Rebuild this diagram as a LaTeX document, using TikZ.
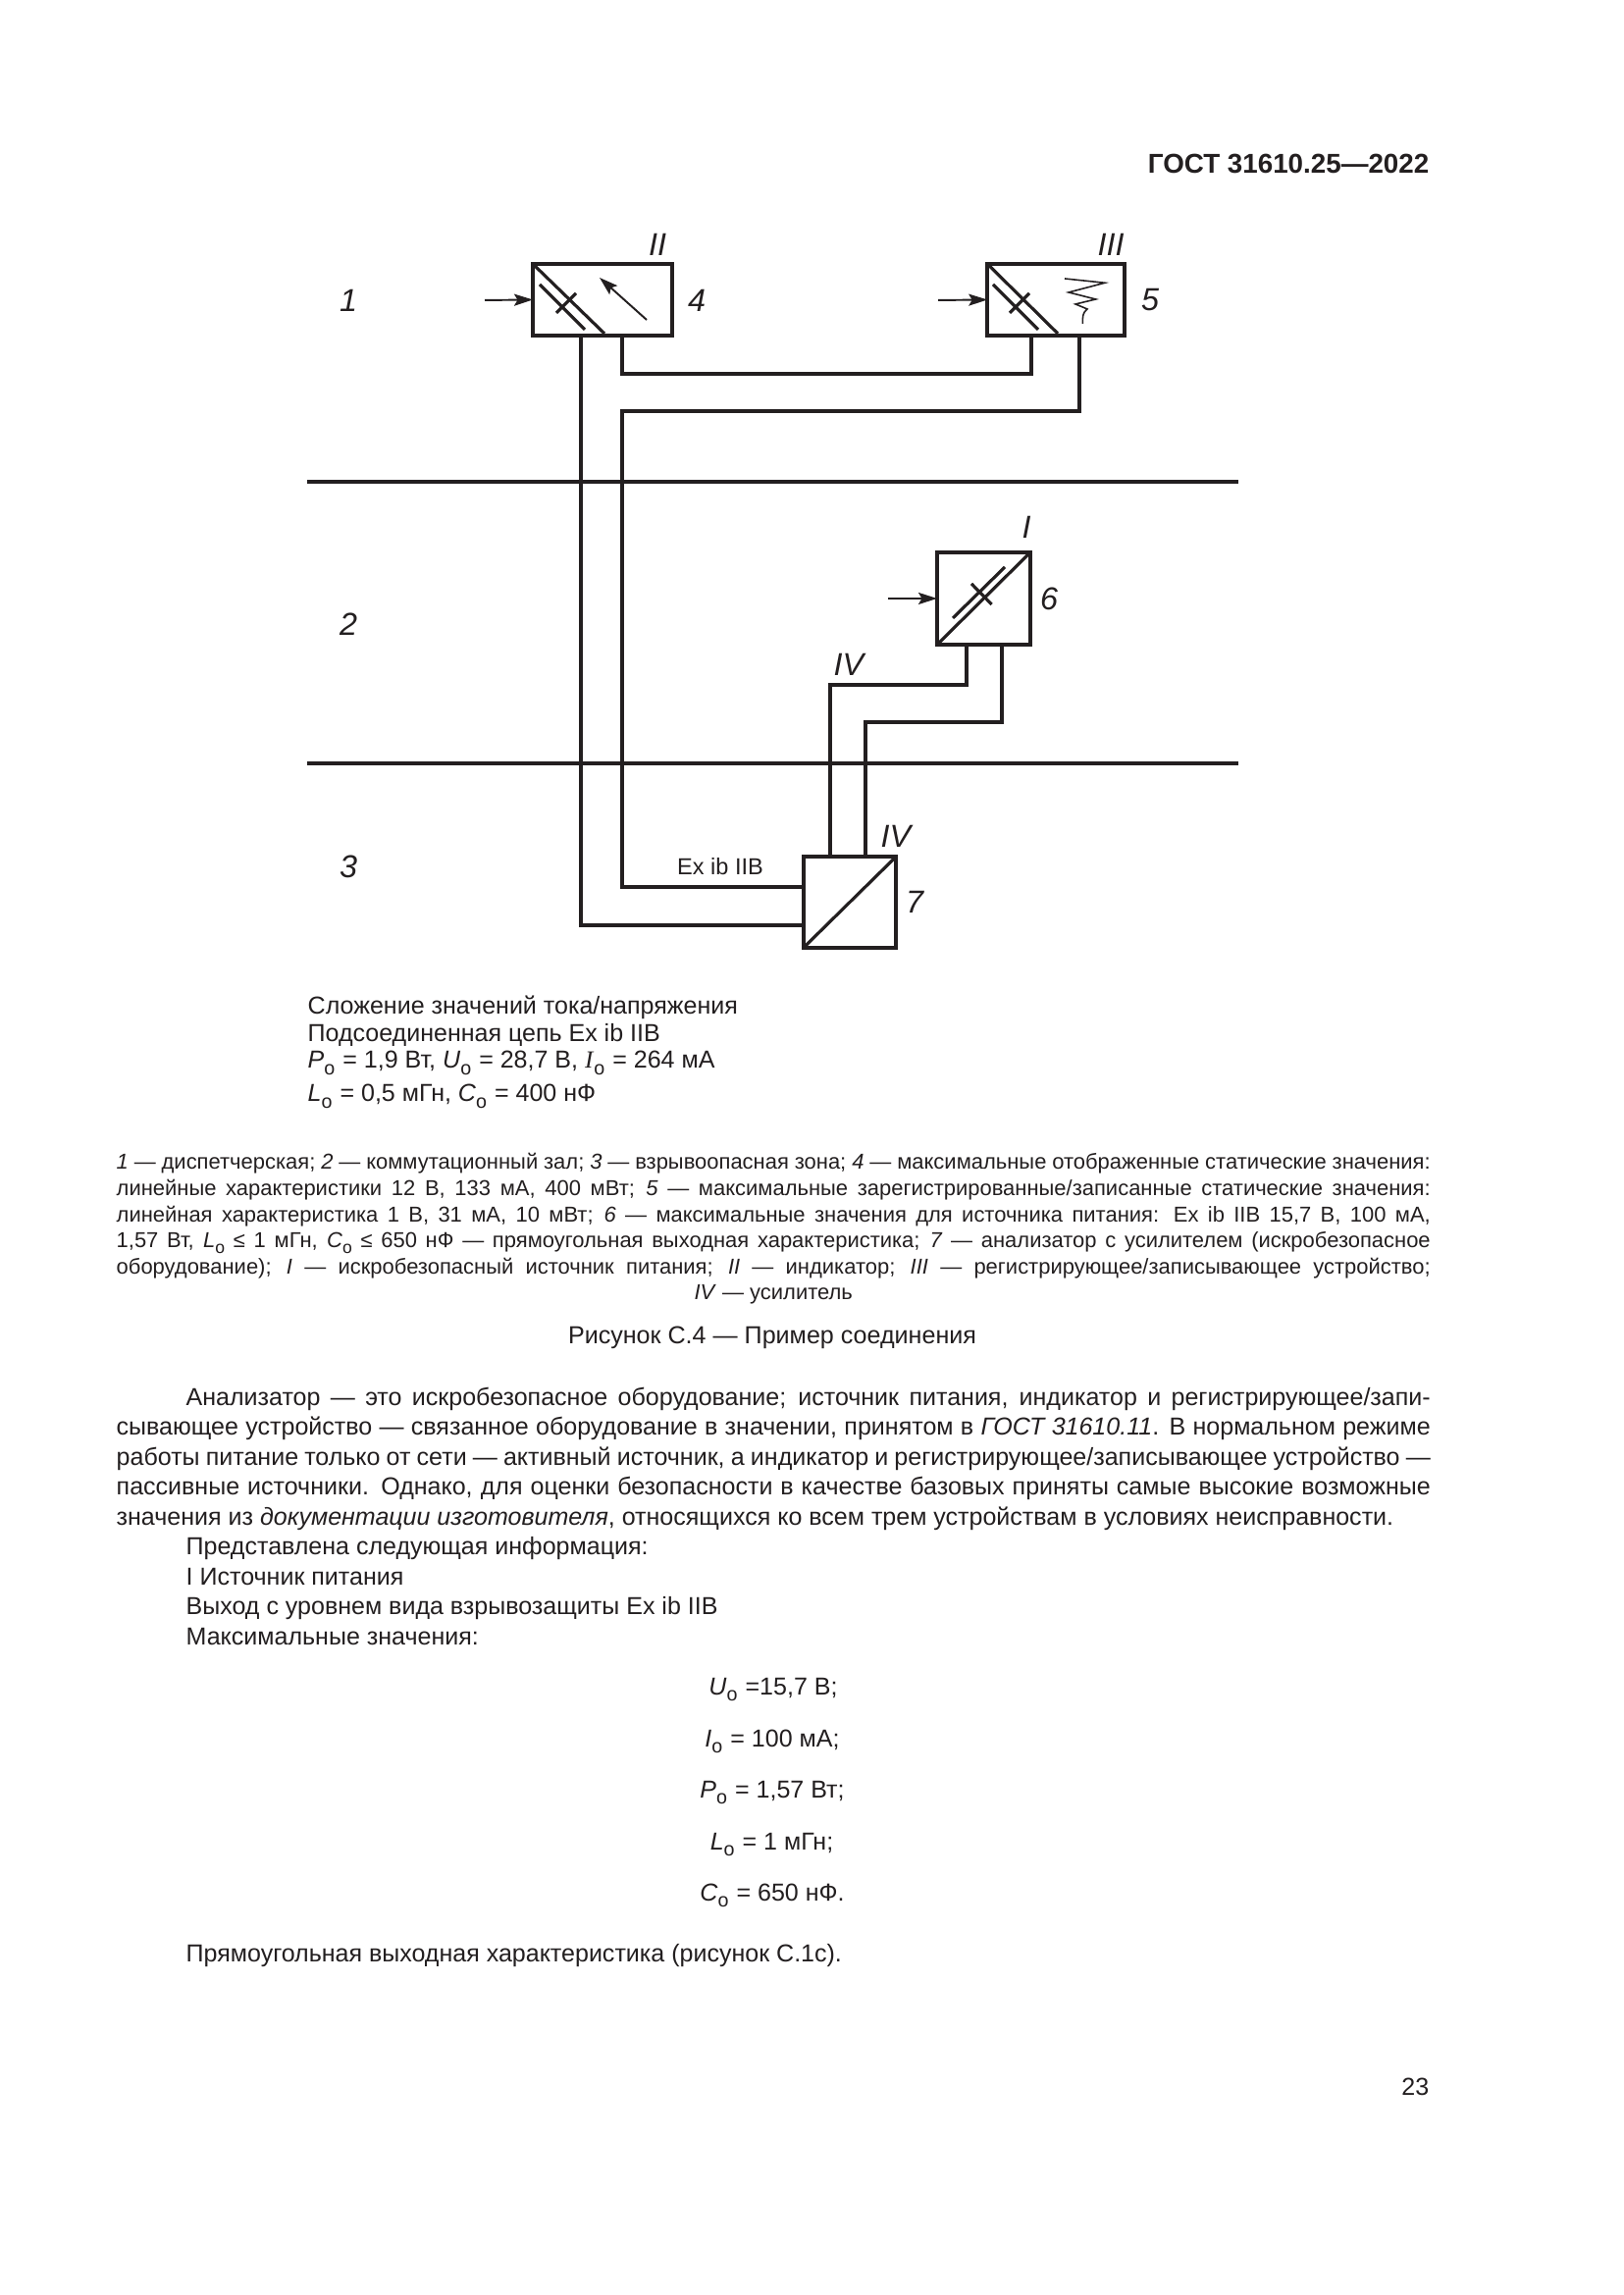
\documentclass[tikz,border=0pt]{standalone}
\usepackage{fontspec}
\setmainfont{Liberation Sans}
\newfontfamily\serifletter{Liberation Serif}
\usetikzlibrary{arrows.meta}
\definecolor{inkcol}{HTML}{231F20}
\newcommand{\jline}[1]{\makebox[13.39cm][s]{#1}}
\newcommand{\subo}[1]{\textit{#1}\raisebox{-1.9pt}{\fontsize{5.6}{6}\selectfont о}\kern0.3pt\relax}
\newcommand{\subc}[1]{\textit{#1}\raisebox{-1.6pt}{\fontsize{5}{6}\selectfont о}}
\tikzset{
  devbox/.style={draw=inkcol, line width=1.05pt, inner sep=0pt, outer sep=0pt},
  wire/.style={draw=inkcol, line width=1.05pt},
  zoneline/.style={draw=inkcol, line width=1.1pt},
  thinline/.style={draw=inkcol, line width=0.9pt},
  feed/.style={draw=inkcol, line width=0.55pt, -{Stealth[length=1.9mm,width=1.2mm,inset=0.35mm]}},
  tag/.style={font=\fontsize{9.2}{11}\selectfont\itshape, text=inkcol, inner sep=0pt},
  block/.style={font=\fontsize{7.12}{8.68}\selectfont, text=inkcol, inner sep=0pt, align=left, anchor=north west},
  small/.style={font=\fontsize{6.25}{7.56}\selectfont, text=inkcol, inner sep=0pt, align=left, anchor=north west},
  formula/.style={font=\fontsize{7.12}{8.7}\selectfont, text=inkcol, inner sep=0pt}
}
\begin{document}
\begin{tikzpicture}[scale=1.0]

\useasboundingbox (0,0) rectangle (16.54,23.39);
\fill[white] (0,0) rectangle (16.54,23.39);

\node[font=\fontsize{7.9}{9}\selectfont\bfseries, text=inkcol, inner sep=0pt, anchor=east] (header) at (14.57, 21.72) {ГОСТ 31610.25—2022};

% zones
\coordinate (zoneaw) at (3.13, 18.48);
\coordinate (zoneae) at (12.62, 18.48);
\coordinate (zonebw) at (3.13, 15.61);
\coordinate (zonebe) at (12.62, 15.61);
\draw[zoneline] (zoneaw) -- (zoneae);
\draw[zoneline, line width=0.95pt] (zonebw) -- (zonebe);

\node[tag] (zone1) at ( 3.55, 20.33) {1};
\node[tag] (zone2) at ( 3.55, 17.03) {2};
\node[tag] (zone3) at ( 3.55, 14.56) {3};

% devices
\node[devbox, minimum width=1.42cm, minimum height=0.73cm] (box4) at ( 6.14, 20.335) {};
\node[devbox, minimum width=1.40cm, minimum height=0.73cm] (box5) at (10.762, 20.335) {};
\node[devbox, minimum width=0.95cm, minimum height=0.94cm] (box6) at (10.025, 17.29) {};
\node[devbox, minimum width=0.945cm, minimum height=0.93cm] (box7) at ( 8.66, 14.195) {};

\node[tag] (labII)  at ( 6.70, 20.90) {II};
\node[tag] (labIII) at (11.32, 20.90) {III};
\node[tag] (lab4)   at ( 7.10, 20.33) {4};
\node[tag] (lab5)   at (11.72, 20.33) {5};
\node[tag] (labI)   at (10.46, 18.02) {I};
\node[tag] (lab6)   at (10.69, 17.29) {6};
\node[tag] (labIVa) at ( 8.65, 16.62) {IV};
\node[tag] (labIVb) at ( 9.13, 14.87) {IV};
\node[tag] (lab7)   at ( 9.32, 14.20) {7};

\node[font=\fontsize{6.7}{8}\selectfont, text=inkcol, inner sep=0pt] (exlabel) at ( 7.34, 14.56) {Ex ib IIB};

% wires
\draw[wire] ([xshift=-0.22cm]box4.south) |- ([yshift=-0.235cm]box7.west);
\draw[wire] ([xshift=0.20cm]box4.south) |- (10.51, 19.58) -- ([xshift=-0.252cm]box5.south);
\draw[wire] ([xshift=0.238cm]box5.south) |- (6.34, 19.20) |- ([yshift=0.155cm]box7.west);
\draw[wire] ([xshift=-0.175cm]box6.south) |- (8.46, 16.41) -- ([xshift=-0.20cm]box7.north);
\draw[wire] ([xshift=0.185cm]box6.south) |- (8.82, 16.03) -- ([xshift=0.16cm]box7.north);

% inputs
\coordinate (feed4) at ( 4.94, 20.33);
\coordinate (feed5) at ( 9.56, 20.33);
\coordinate (feed6) at ( 9.05, 17.29);
\draw[feed] (feed4) -- (box4.west);
\draw[feed] (feed5) -- (box5.west);
\draw[feed] (feed6) -- (box6.west);

% symbols in box 4
\draw[thinline] (box4.north west) -- ( 6.16, 19.99);
\draw[thinline] ( 5.50, 20.49) -- ( 5.96, 20.03);
\draw[thinline] ( 5.67, 20.20) -- ( 5.87, 20.40);
\draw[feed] ( 6.59, 20.13) -- ( 6.11, 20.56);

% symbols in box 5
\draw[thinline] (box5.north west) -- (10.78, 19.99);
\draw[thinline] (10.12, 20.49) -- (10.58, 20.03);
\draw[thinline] (10.29, 20.20) -- (10.49, 20.40);
\draw[draw=inkcol, line width=0.45pt] (10.85, 20.55) -- (11.26, 20.507) -- (10.89, 20.41) -- (11.167, 20.34) -- (10.96, 20.29) -- (11.08, 20.24) .. controls (11.03, 20.20) and (11.033, 20.16) .. (11.033, 20.09);

% symbols in box 6 and box 7
\draw[thinline] (box6.south west) -- (box6.north east);
\draw[thinline] ( 9.71, 17.09) -- (10.24, 17.61);
\draw[thinline] ( 9.90, 17.44) -- (10.106, 17.23);
\draw[thinline] (box7.south west) -- (box7.north east);

% text under the figure
\node[block, font=\fontsize{7.12}{8}\selectfont] (sumblock) at ( 3.13, 13.25) {Сложение значений тока/напряжения\\
Подсоединенная цепь Ex ib IIB};
\node[formula, anchor=west] (sumpower) at ( 3.13, 12.555) {\subo{P} = 1,9 Вт, \subo{U} = 28,7 В, \subo{{\serifletter I}} = 264 мА};
\node[formula, anchor=west] (sumcap) at ( 3.13, 12.215) {\subo{L} = 0,5 мГн, \subo{C} = 400 нФ};

\node[small] (legend) at ( 1.18, 11.64) {%
\jline{\textit{1} — диспетчерская; \textit{2} — коммутационный зал; \textit{3} — взрывоопасная зона; \textit{4} — максимальные отображенные статические значения:}\\
\jline{линейные характеристики 12 В, 133 мА, 400 мВт; \textit{5} — максимальные зарегистрированные/записанные статические значения:}\\
\jline{линейная характеристика 1 В, 31 мА, 10 мВт; \textit{6} — максимальные значения для источника питания: Ex ib IIB 15,7 В, 100 мА,}\\
\jline{1,57 Вт, \subc{L} ≤ 1 мГн, \subc{C} ≤ 650 нФ — прямоугольная выходная характеристика; \textit{7} — анализатор с усилителем (искробезопасное}\\
\jline{оборудование); \textit{I} — искробезопасный источник питания; \textit{II} — индикатор; \textit{III} — регистрирующее/записывающее устройство;}\\
\makebox[13.39cm][c]{\textit{IV} — усилитель}};

\node[font=\fontsize{7.14}{8}\selectfont, text=inkcol, inner sep=0pt] (caption) at ( 7.87, 9.76) {Рисунок С.4 — Пример соединения};

\node[block] (bodytext) at ( 1.18, 9.26) {%
\jline{\hspace*{0.71cm}Анализатор — это искробезопасное оборудование; источник питания, индикатор и регистрирующее/запи-}\\
\jline{сывающее устройство — связанное оборудование в значении, принятом в \textit{ГОСТ 31610.11}. В нормальном режиме}\\
\jline{работы питание только от сети — активный источник, а индикатор и регистрирующее/записывающее устройство —}\\
\jline{пассивные источники. Однако, для оценки безопасности в качестве базовых приняты самые высокие возможные}\\
значения из \textit{документации изготовителя}, относящихся ко всем трем устройствам в условиях неисправности.\\
\hspace*{0.71cm}Представлена следующая информация:\\
\hspace*{0.71cm}I Источник питания\\
\hspace*{0.71cm}Выход с уровнем вида взрывозащиты Ex ib IIB\\
\hspace*{0.71cm}Максимальные значения:};

\node[formula] (valU) at ( 7.88, 6.17) {\subo{U} =15,7 В;};
\node[formula] (valI) at ( 7.87, 5.64) {\subo{I} = 100 мА;};
\node[formula] (valP) at ( 7.87, 5.12) {\subo{P} = 1,57 Вт;};
\node[formula] (valL) at ( 7.865, 4.59) {\subo{L} = 1 мГн;};
\node[formula] (valC) at ( 7.87, 4.07) {\subo{C} = 650 нФ.};

\node[formula, anchor=west] (outline) at ( 1.89, 3.46) {Прямоугольная выходная характеристика (рисунок С.1с).};

\node[formula, anchor=east] (pagenum) at (14.57, 2.12) {23};

\end{tikzpicture}
\end{document}
